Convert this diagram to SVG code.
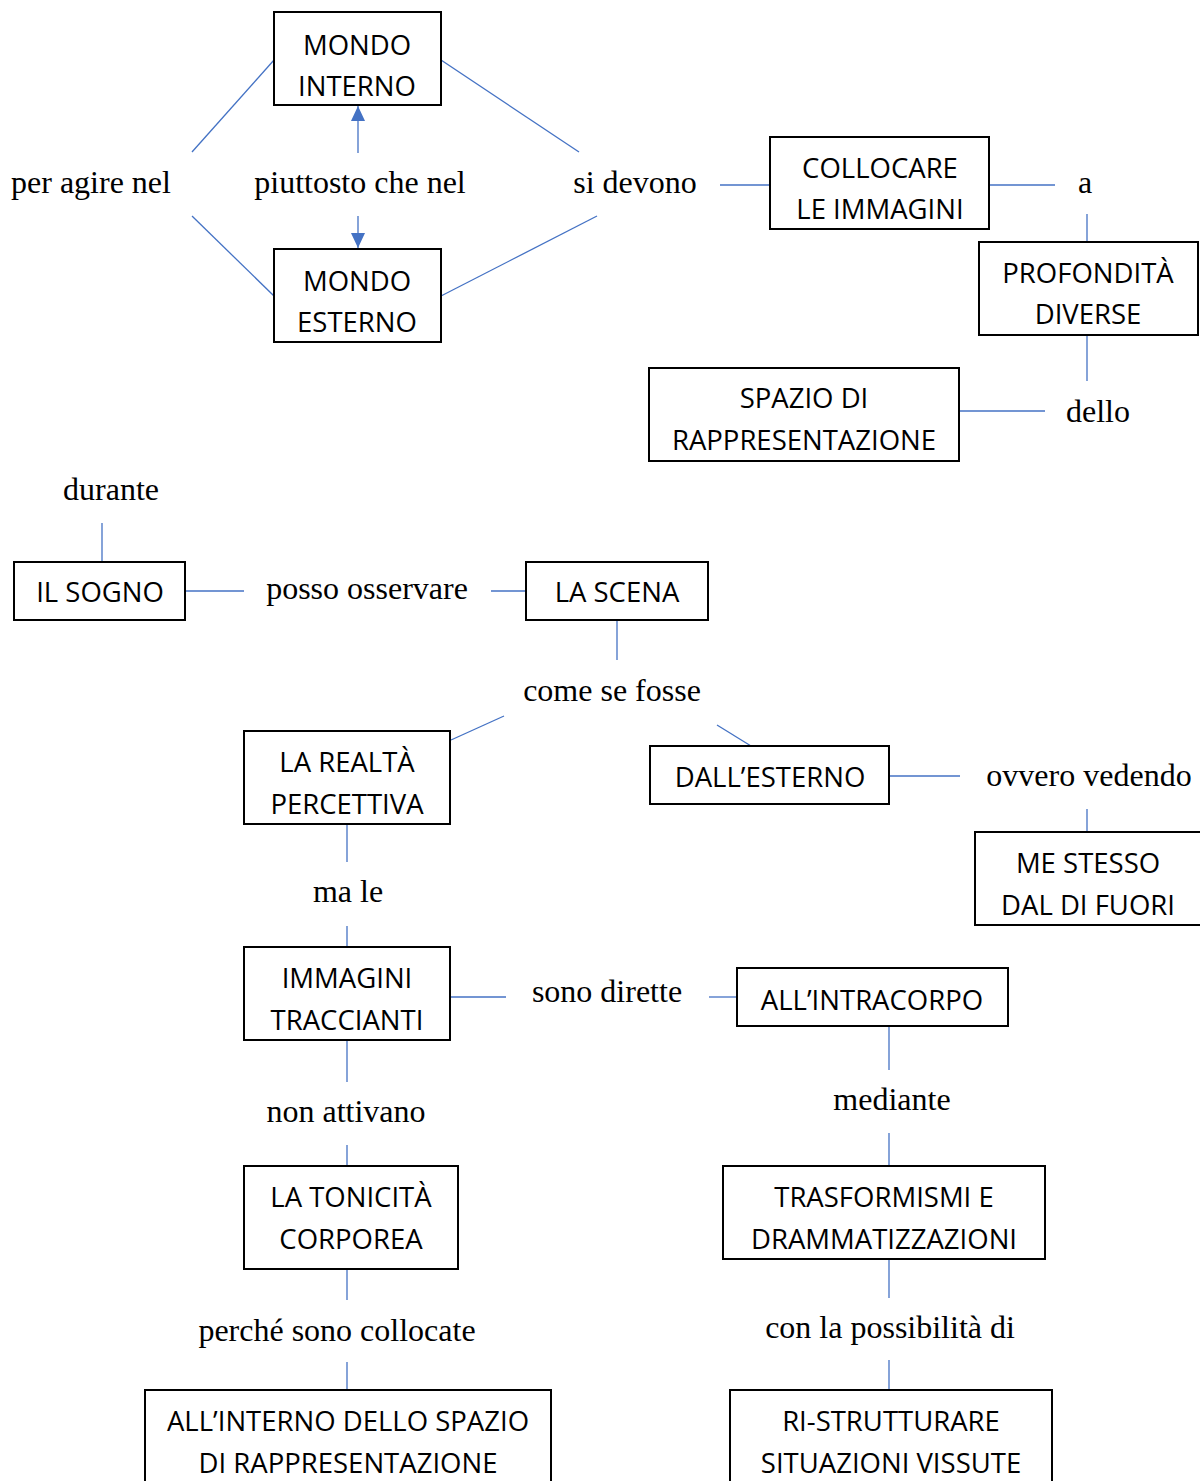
<svg xmlns="http://www.w3.org/2000/svg" width="1200" height="1481" viewBox="0 0 1200 1481">
  <style>
    .box { fill: #ffffff; stroke: #000000; stroke-width: 2; }
    .bt { font-family: "Open Sans", "Noto Sans", sans-serif; font-size: 27.5px; fill: #000000; text-anchor: middle; }
    .lbl { font-family: "Liberation Serif", "DejaVu Serif", serif; font-size: 32px; fill: #000000; text-anchor: middle; }
    .ln { stroke: #4472C4; stroke-width: 1.3; fill: none; }
  </style>
  <defs>
    <marker id="tri" viewBox="0 0 15 14" refX="15" refY="7" markerWidth="15" markerHeight="14" markerUnits="userSpaceOnUse" orient="auto">
      <path d="M0,0 L15,7 L0,14 Z" fill="#4472C4"/>
    </marker>
  </defs>

  <rect width="1200" height="1481" fill="#ffffff"/>

  <!-- connectors -->
  <g id="connectors">
    <line class="ln" x1="192" y1="152" x2="274" y2="60"/>
    <line class="ln" x1="192" y1="216" x2="274" y2="296"/>
    <line class="ln" x1="441" y1="60" x2="579" y2="152"/>
    <line class="ln" x1="441" y1="296" x2="597" y2="216"/>
    <line class="ln" x1="358" y1="153" x2="358" y2="106" marker-end="url(#tri)"/>
    <line class="ln" x1="358" y1="216" x2="358" y2="248" marker-end="url(#tri)"/>
    <line class="ln" x1="720" y1="185" x2="770" y2="185"/>
    <line class="ln" x1="989" y1="185" x2="1055" y2="185"/>
    <line class="ln" x1="1087" y1="214" x2="1087" y2="242"/>
    <line class="ln" x1="1087" y1="335" x2="1087" y2="381"/>
    <line class="ln" x1="959" y1="411" x2="1045" y2="411"/>

    <line class="ln" x1="102" y1="523" x2="102" y2="562"/>
    <line class="ln" x1="185" y1="591" x2="244" y2="591"/>
    <line class="ln" x1="491" y1="591" x2="526" y2="591"/>
    <line class="ln" x1="617" y1="620" x2="617" y2="660"/>
    <line class="ln" x1="504" y1="716" x2="451" y2="740"/>
    <line class="ln" x1="717" y1="725" x2="751" y2="746"/>
    <line class="ln" x1="889" y1="776" x2="960" y2="776"/>
    <line class="ln" x1="1087" y1="809" x2="1087" y2="832"/>
    <line class="ln" x1="347" y1="824" x2="347" y2="862"/>
    <line class="ln" x1="347" y1="926" x2="347" y2="947"/>
    <line class="ln" x1="450" y1="997" x2="506" y2="997"/>
    <line class="ln" x1="709" y1="997" x2="737" y2="997"/>
    <line class="ln" x1="889" y1="1026" x2="889" y2="1070"/>
    <line class="ln" x1="889" y1="1133" x2="889" y2="1166"/>
    <line class="ln" x1="889" y1="1259" x2="889" y2="1298"/>
    <line class="ln" x1="889" y1="1360" x2="889" y2="1390"/>
    <line class="ln" x1="347" y1="1040" x2="347" y2="1082"/>
    <line class="ln" x1="347" y1="1145" x2="347" y2="1166"/>
    <line class="ln" x1="347" y1="1269" x2="347" y2="1300"/>
    <line class="ln" x1="347" y1="1362" x2="347" y2="1390"/>
  </g>

  <!-- linking phrases -->
  <g id="labels">
    <text class="lbl" x="91" y="193">per agire nel</text>
    <text class="lbl" x="360" y="193">piuttosto che nel</text>
    <text class="lbl" x="635" y="193">si devono</text>
    <text class="lbl" x="1085" y="193">a</text>
    <text class="lbl" x="1098" y="422">dello</text>
    <text class="lbl" x="111" y="500">durante</text>
    <text class="lbl" x="367" y="599">posso osservare</text>
    <text class="lbl" x="612" y="701">come se fosse</text>
    <text class="lbl" x="1089" y="786">ovvero vedendo</text>
    <text class="lbl" x="348" y="902">ma le</text>
    <text class="lbl" x="607" y="1002">sono dirette</text>
    <text class="lbl" x="892" y="1110">mediante</text>
    <text class="lbl" x="346" y="1122">non attivano</text>
    <text class="lbl" x="890" y="1338">con la possibilità di</text>
    <text class="lbl" x="337" y="1341">perché sono collocate</text>
  </g>

  <!-- concepts -->
  <g id="mondo-interno">
    <rect class="box" x="274" y="12" width="167" height="93"/>
    <text class="bt" x="357" y="55">MONDO</text>
    <text class="bt" x="357" y="96">INTERNO</text>
  </g>
  <g id="mondo-esterno">
    <rect class="box" x="274" y="249" width="167" height="93"/>
    <text class="bt" x="357" y="291">MONDO</text>
    <text class="bt" x="357" y="332">ESTERNO</text>
  </g>
  <g id="collocare">
    <rect class="box" x="770" y="137" width="219" height="92"/>
    <text class="bt" x="880" y="178">COLLOCARE</text>
    <text class="bt" x="880" y="219">LE IMMAGINI</text>
  </g>
  <g id="profondita">
    <rect class="box" x="979" y="242" width="219" height="93"/>
    <text class="bt" x="1088" y="283">PROFONDITÀ</text>
    <text class="bt" x="1088" y="324">DIVERSE</text>
  </g>
  <g id="spazio">
    <rect class="box" x="649" y="368" width="310" height="93"/>
    <text class="bt" x="804" y="408">SPAZIO DI</text>
    <text class="bt" x="804" y="450">RAPPRESENTAZIONE</text>
  </g>
  <g id="sogno">
    <rect class="box" x="14" y="562" width="171" height="58"/>
    <text class="bt" x="100" y="602">IL SOGNO</text>
  </g>
  <g id="scena">
    <rect class="box" x="526" y="562" width="182" height="58"/>
    <text class="bt" x="617" y="602">LA SCENA</text>
  </g>
  <g id="realta">
    <rect class="box" x="244" y="731" width="206" height="93"/>
    <text class="bt" x="347" y="772">LA REALTÀ</text>
    <text class="bt" x="347" y="814">PERCETTIVA</text>
  </g>
  <g id="esterno">
    <rect class="box" x="650" y="746" width="239" height="58"/>
    <text class="bt" x="770" y="787">DALL’ESTERNO</text>
  </g>
  <g id="me-stesso">
    <rect class="box" x="975" y="832" width="226" height="93"/>
    <text class="bt" x="1088" y="873">ME STESSO</text>
    <text class="bt" x="1088" y="915">DAL DI FUORI</text>
  </g>
  <g id="immagini">
    <rect class="box" x="244" y="947" width="206" height="93"/>
    <text class="bt" x="347" y="988">IMMAGINI</text>
    <text class="bt" x="347" y="1030">TRACCIANTI</text>
  </g>
  <g id="intracorpo">
    <rect class="box" x="737" y="968" width="271" height="58"/>
    <text class="bt" x="872" y="1010">ALL’INTRACORPO</text>
  </g>
  <g id="tonicita">
    <rect class="box" x="244" y="1166" width="214" height="103"/>
    <text class="bt" x="351" y="1207">LA TONICITÀ</text>
    <text class="bt" x="351" y="1249">CORPOREA</text>
  </g>
  <g id="trasformismi">
    <rect class="box" x="723" y="1166" width="322" height="93"/>
    <text class="bt" x="884" y="1207">TRASFORMISMI E</text>
    <text class="bt" x="884" y="1249">DRAMMATIZZAZIONI</text>
  </g>
  <g id="interno-spazio">
    <rect class="box" x="145" y="1390" width="406" height="100"/>
    <text class="bt" x="348" y="1431">ALL’INTERNO DELLO SPAZIO</text>
    <text class="bt" x="348" y="1473">DI RAPPRESENTAZIONE</text>
  </g>
  <g id="ristrutturare">
    <rect class="box" x="730" y="1390" width="322" height="100"/>
    <text class="bt" x="891" y="1431">RI-STRUTTURARE</text>
    <text class="bt" x="891" y="1473">SITUAZIONI VISSUTE</text>
  </g>
</svg>
